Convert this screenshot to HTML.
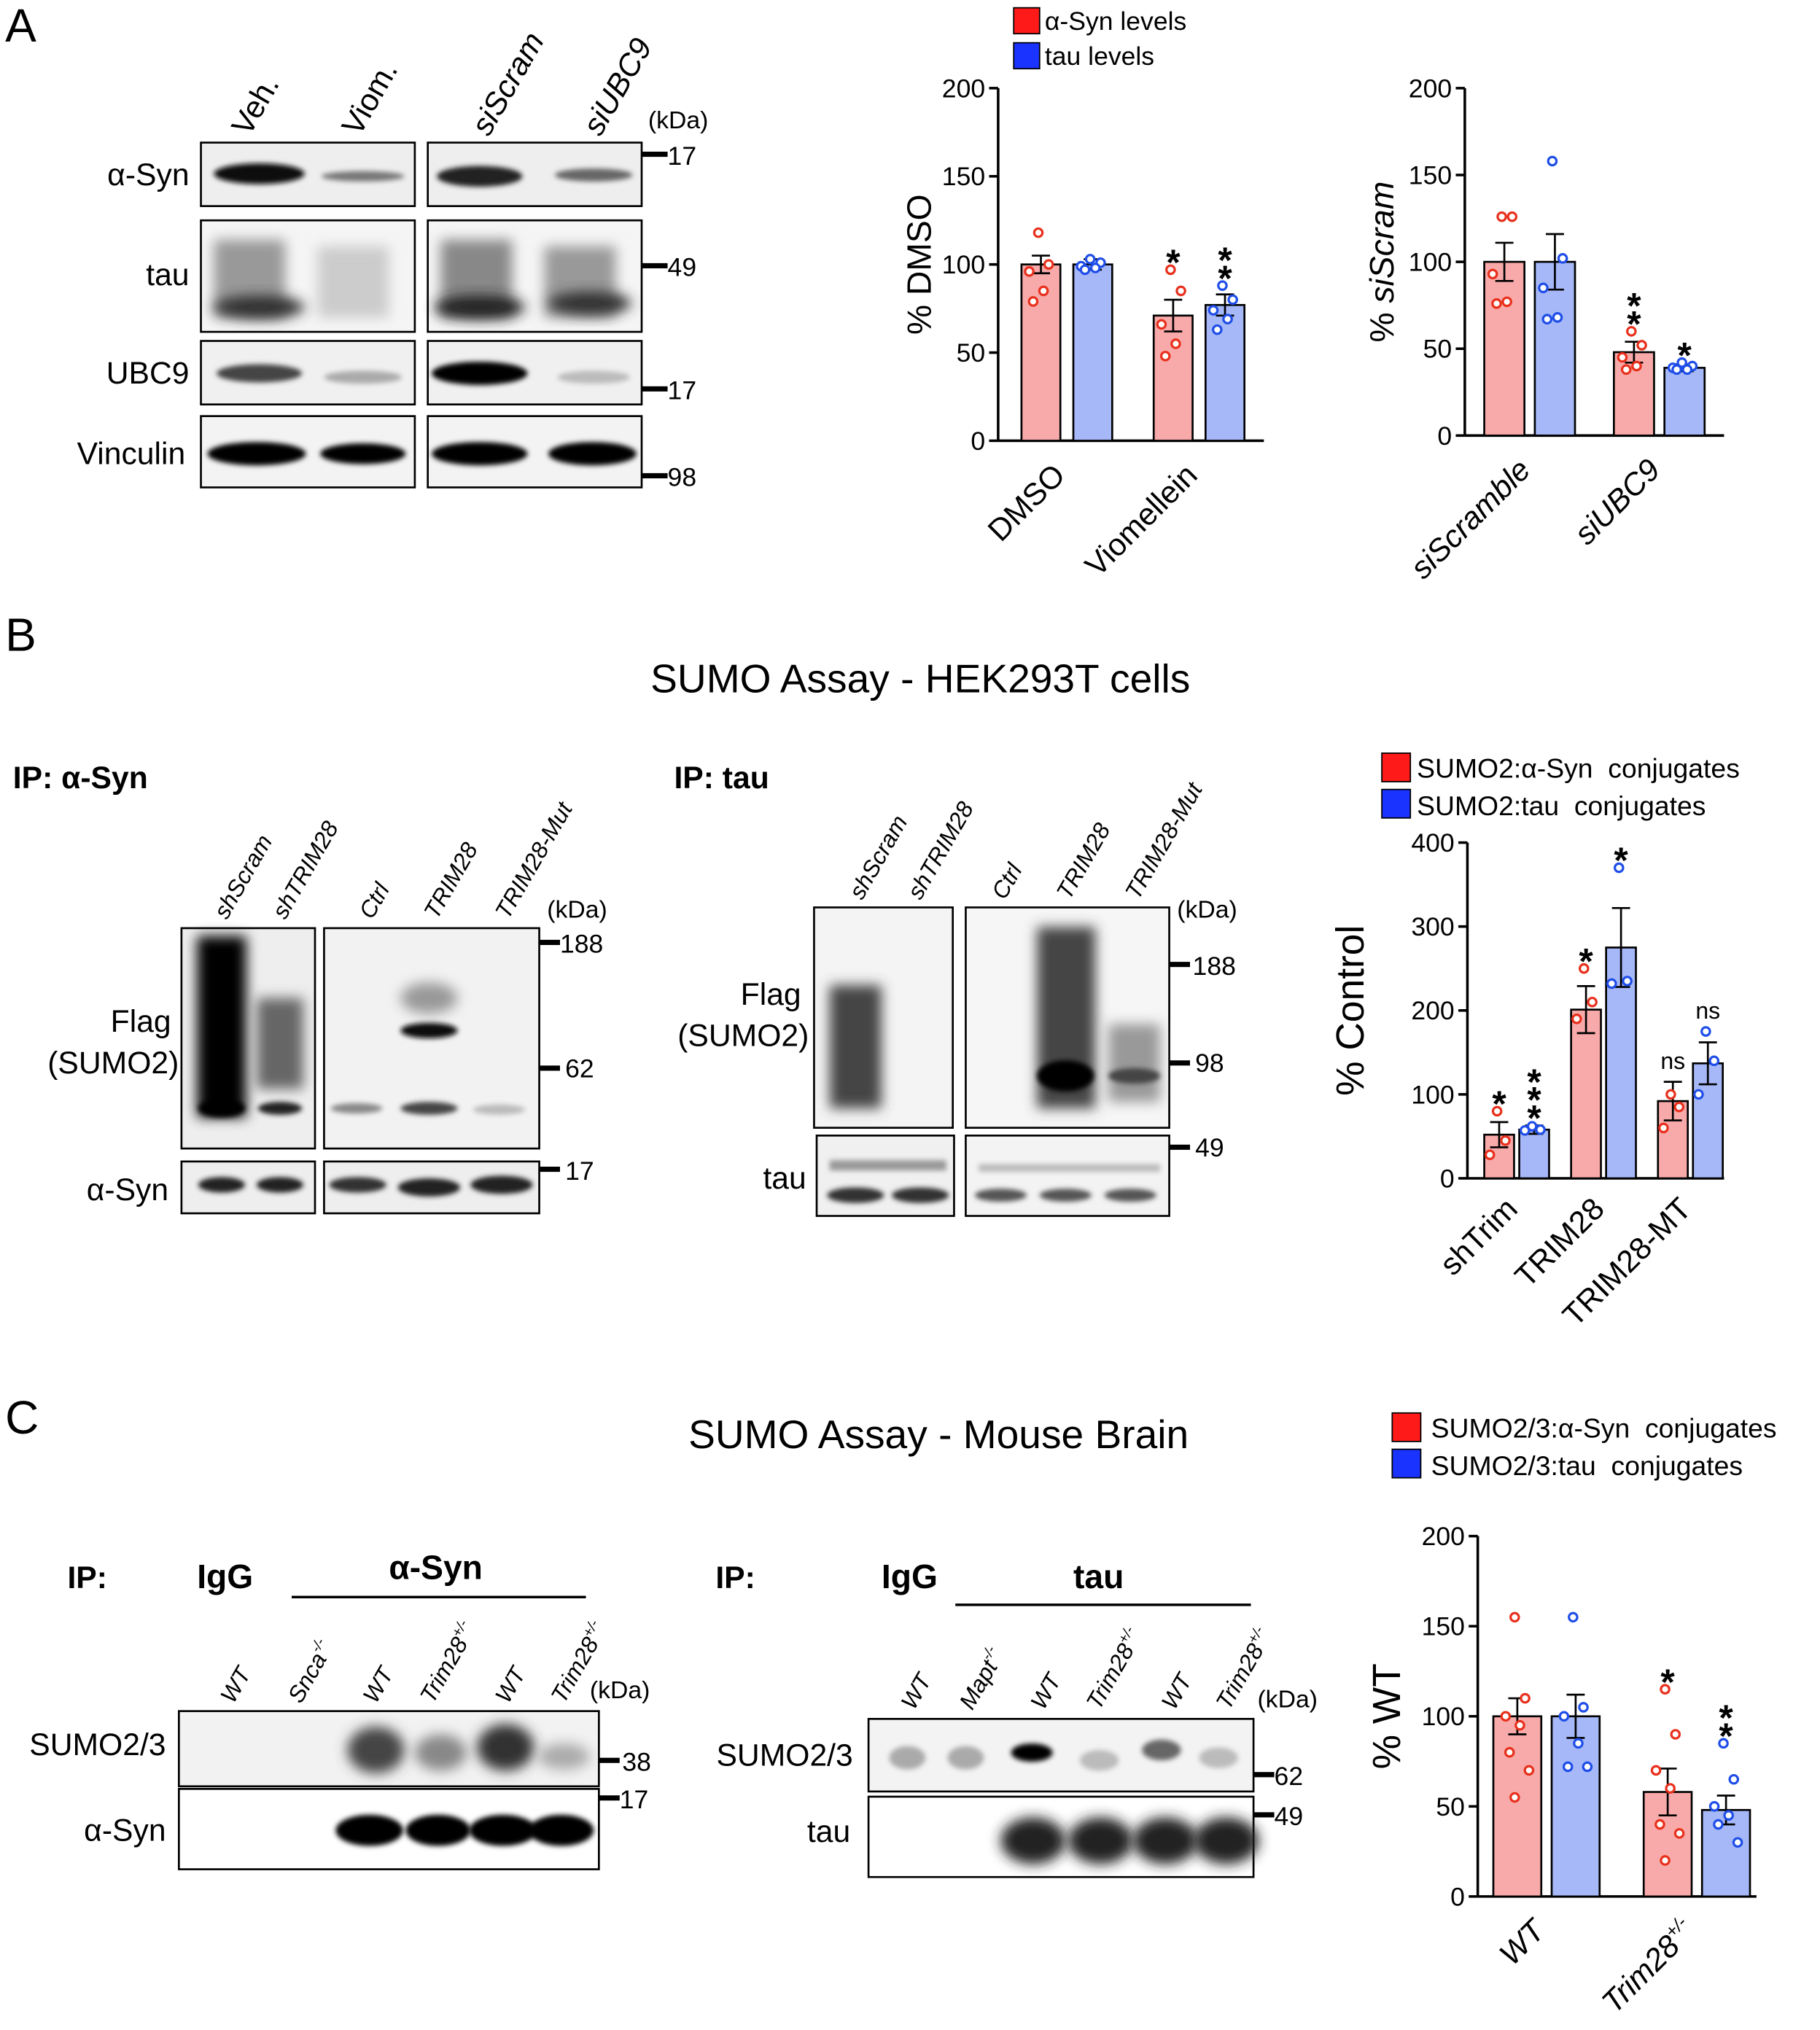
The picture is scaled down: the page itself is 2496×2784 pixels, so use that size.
<!DOCTYPE html>
<html><head><meta charset="utf-8"><style>
html,body{margin:0;padding:0;background:#fff}
svg{display:block}
text{font-family:"Liberation Sans",Arial,sans-serif;fill:#000}
</style></head><body>
<svg id="fig" width="2496" height="2784" viewBox="0 0 1404 1566" xmlns="http://www.w3.org/2000/svg">
<defs>
<filter id="b2" x="-50%" y="-50%" width="200%" height="200%"><feGaussianBlur stdDeviation="2"/></filter>
<filter id="b5" x="-50%" y="-50%" width="200%" height="200%"><feGaussianBlur stdDeviation="5"/></filter>
</defs>
<g id="static">
<text x="4" y="32" font-size="36">A</text>
<text x="4" y="502" font-size="36">B</text>
<text x="4" y="1106" font-size="36">C</text>

<g font-size="24">
<text transform="translate(192,106) rotate(-60)">Veh.</text>
<text transform="translate(277,106) rotate(-60)">Viom.</text>
<text transform="translate(377,106) rotate(-60)" font-style="italic">siScram</text>
<text transform="translate(463,106) rotate(-60)" font-style="italic">siUBC9</text>
<text x="500" y="99" font-size="19">(kDa)</text>
<text x="146" y="143" text-anchor="end">α-Syn</text>
<text x="146" y="220" text-anchor="end">tau</text>
<text x="146" y="296" text-anchor="end">UBC9</text>
<text x="143" y="358" text-anchor="end">Vinculin</text>
<rect x="155" y="110" width="165" height="49" fill="#eee" stroke="#000" stroke-width="1.5"/>
<rect x="330" y="110" width="165" height="49" fill="#eee" stroke="#000" stroke-width="1.5"/>
<ellipse cx="200" cy="134" rx="35" ry="8" fill="#111" filter="url(#b2)"/>
<ellipse cx="280" cy="136" rx="32" ry="4" fill="#777" filter="url(#b2)"/>
<ellipse cx="370" cy="136" rx="33" ry="8" fill="#222" filter="url(#b2)"/>
<ellipse cx="458" cy="135" rx="30" ry="5" fill="#666" filter="url(#b2)"/>
<rect x="155" y="170" width="165" height="86" fill="#f5f5f5" stroke="#000" stroke-width="1.5"/>
<rect x="330" y="170" width="165" height="86" fill="#f5f5f5" stroke="#000" stroke-width="1.5"/>
<rect x="165" y="185" width="55" height="60" fill="#999" filter="url(#b5)"/>
<rect x="245" y="190" width="55" height="55" fill="#ccc" filter="url(#b5)"/>
<rect x="340" y="185" width="55" height="60" fill="#888" filter="url(#b5)"/>
<rect x="420" y="190" width="55" height="55" fill="#999" filter="url(#b5)"/>
<ellipse cx="200" cy="237" rx="35" ry="9" fill="#333" filter="url(#b5)"/>
<ellipse cx="370" cy="237" rx="35" ry="9" fill="#222" filter="url(#b5)"/>
<ellipse cx="455" cy="234" rx="32" ry="9" fill="#333" filter="url(#b5)"/>
<rect x="155" y="263" width="165" height="49" fill="#f0f0f0" stroke="#000" stroke-width="1.5"/>
<rect x="330" y="263" width="165" height="49" fill="#f0f0f0" stroke="#000" stroke-width="1.5"/>
<ellipse cx="200" cy="288" rx="33" ry="7" fill="#444" filter="url(#b2)"/>
<ellipse cx="280" cy="291" rx="30" ry="5" fill="#aaa" filter="url(#b2)"/>
<ellipse cx="370" cy="288" rx="37" ry="9" fill="#000" filter="url(#b2)"/>
<ellipse cx="458" cy="291" rx="28" ry="5" fill="#bbb" filter="url(#b2)"/>
<rect x="155" y="321" width="165" height="55" fill="#f3f3f3" stroke="#000" stroke-width="1.5"/>
<rect x="330" y="321" width="165" height="55" fill="#f3f3f3" stroke="#000" stroke-width="1.5"/>
<ellipse cx="198" cy="350" rx="38" ry="9" fill="#000" filter="url(#b2)"/>
<ellipse cx="280" cy="350" rx="33" ry="8" fill="#000" filter="url(#b2)"/>
<ellipse cx="370" cy="350" rx="37" ry="9" fill="#000" filter="url(#b2)"/>
<ellipse cx="457" cy="350" rx="34" ry="9" fill="#000" filter="url(#b2)"/>
<g font-size="20">
<rect x="495" y="117" width="20" height="4"/><text x="515" y="127">17</text>
<rect x="495" y="203" width="20" height="4"/><text x="515" y="213">49</text>
<rect x="495" y="298" width="20" height="4"/><text x="515" y="308">17</text>
<rect x="495" y="365" width="20" height="4"/><text x="515" y="375">98</text>
</g>
</g>

<text x="710" y="534" font-size="31" text-anchor="middle">SUMO Assay - HEK293T cells</text>
<text x="724" y="1117" font-size="31" text-anchor="middle">SUMO Assay - Mouse Brain</text>

<g>
<text x="10" y="608" font-size="24" font-weight="bold">IP: α-Syn</text>
<g font-size="18" font-style="italic">
<text transform="translate(175,710) rotate(-60)">shScram</text>
<text transform="translate(220,710) rotate(-60)">shTRIM28</text>
<text transform="translate(287,710) rotate(-60)">Ctrl</text>
<text transform="translate(337,710) rotate(-60)">TRIM28</text>
<text transform="translate(392,710) rotate(-60)">TRIM28-Mut</text>
</g>
<text x="422" y="708" font-size="19">(kDa)</text>
<text x="132" y="796" font-size="24" text-anchor="end">Flag</text>
<text x="138" y="828" font-size="24" text-anchor="end">(SUMO2)</text>
<text x="130" y="926" font-size="24" text-anchor="end">α-Syn</text>
<rect x="140" y="716" width="103" height="170" fill="#eee" stroke="#000" stroke-width="1.5"/>
<rect x="250" y="716" width="166" height="170" fill="#f2f2f2" stroke="#000" stroke-width="1.5"/>
<rect x="152" y="722" width="38" height="140" fill="#000" filter="url(#b5)"/>
<rect x="198" y="770" width="36" height="70" fill="#666" filter="url(#b5)"/>
<ellipse cx="171" cy="855" rx="18" ry="7" fill="#000" filter="url(#b2)"/>
<ellipse cx="216" cy="855" rx="17" ry="5" fill="#222" filter="url(#b2)"/>
<ellipse cx="331" cy="795" rx="22" ry="6" fill="#111" filter="url(#b2)"/>
<ellipse cx="331" cy="770" rx="22" ry="12" fill="#999" filter="url(#b5)"/>
<ellipse cx="275" cy="855" rx="20" ry="4" fill="#888" filter="url(#b2)"/>
<ellipse cx="331" cy="855" rx="22" ry="5" fill="#444" filter="url(#b2)"/>
<ellipse cx="385" cy="856" rx="20" ry="4" fill="#bbb" filter="url(#b2)"/>
<rect x="140" y="896" width="103" height="40" fill="#eee" stroke="#000" stroke-width="1.5"/>
<rect x="250" y="896" width="166" height="40" fill="#eee" stroke="#000" stroke-width="1.5"/>
<ellipse cx="171" cy="914" rx="18" ry="6" fill="#222" filter="url(#b2)"/>
<ellipse cx="216" cy="914" rx="18" ry="6" fill="#222" filter="url(#b2)"/>
<ellipse cx="276" cy="914" rx="22" ry="6" fill="#333" filter="url(#b2)"/>
<ellipse cx="331" cy="916" rx="24" ry="7" fill="#222" filter="url(#b2)"/>
<ellipse cx="387" cy="914" rx="24" ry="7" fill="#222" filter="url(#b2)"/>
<g font-size="20">
<rect x="416" y="725" width="16" height="4"/><text x="432" y="735">188</text>
<rect x="416" y="822" width="16" height="4"/><text x="436" y="831">62</text>
<rect x="416" y="900" width="16" height="4"/><text x="436" y="910">17</text>
</g>
</g>

<g>
<text x="520" y="608" font-size="24" font-weight="bold">IP: tau</text>
<g font-size="18" font-style="italic">
<text transform="translate(665,695) rotate(-60)">shScram</text>
<text transform="translate(710,695) rotate(-60)">shTRIM28</text>
<text transform="translate(775,695) rotate(-60)">Ctrl</text>
<text transform="translate(825,695) rotate(-60)">TRIM28</text>
<text transform="translate(878,695) rotate(-60)">TRIM28-Mut</text>
</g>
<text x="908" y="708" font-size="19">(kDa)</text>
<text x="618" y="775" font-size="24" text-anchor="end">Flag</text>
<text x="624" y="807" font-size="24" text-anchor="end">(SUMO2)</text>
<text x="622" y="917" font-size="24" text-anchor="end">tau</text>
<rect x="628" y="700" width="107" height="170" fill="#f4f4f4" stroke="#000" stroke-width="1.5"/>
<rect x="745" y="700" width="157" height="170" fill="#f6f6f6" stroke="#000" stroke-width="1.5"/>
<rect x="640" y="760" width="40" height="95" fill="#444" filter="url(#b5)"/>
<rect x="800" y="715" width="45" height="140" fill="#444" filter="url(#b5)"/>
<ellipse cx="822" cy="830" rx="22" ry="12" fill="#000" filter="url(#b2)"/>
<rect x="855" y="790" width="40" height="60" fill="#999" filter="url(#b5)"/>
<ellipse cx="875" cy="830" rx="20" ry="6" fill="#444" filter="url(#b2)"/>
<rect x="630" y="876" width="106" height="62" fill="#f0f0f0" stroke="#000" stroke-width="1.5"/>
<rect x="745" y="876" width="157" height="62" fill="#f3f3f3" stroke="#000" stroke-width="1.5"/>
<ellipse cx="660" cy="922" rx="22" ry="6" fill="#333" filter="url(#b2)"/>
<ellipse cx="710" cy="922" rx="22" ry="6" fill="#333" filter="url(#b2)"/>
<ellipse cx="772" cy="922" rx="20" ry="5" fill="#555" filter="url(#b2)"/>
<ellipse cx="822" cy="922" rx="20" ry="5" fill="#555" filter="url(#b2)"/>
<ellipse cx="872" cy="922" rx="20" ry="5" fill="#555" filter="url(#b2)"/>
<rect x="640" y="895" width="90" height="8" fill="#999" filter="url(#b2)"/>
<rect x="755" y="898" width="140" height="6" fill="#bbb" filter="url(#b2)"/>
<g font-size="20">
<rect x="902" y="742" width="16" height="4"/><text x="920" y="752">188</text>
<rect x="902" y="818" width="16" height="4"/><text x="922" y="827">98</text>
<rect x="902" y="883" width="16" height="4"/><text x="922" y="892">49</text>
</g>
</g>

<g>
<text x="52" y="1225" font-size="24" font-weight="bold">IP:</text>
<text x="152" y="1225" font-size="26" font-weight="bold">IgG</text>
<text x="300" y="1218" font-size="26" font-weight="bold">α-Syn</text>
<line x1="225" y1="1232" x2="452" y2="1232" stroke="#000" stroke-width="2"/>
<g font-size="18" font-style="italic">
<text transform="translate(180,1315) rotate(-60)">WT</text>
<text transform="translate(232,1315) rotate(-60)">Snca<tspan font-size="11" dy="-8">-/-</tspan></text>
<text transform="translate(290,1315) rotate(-60)">WT</text>
<text transform="translate(334,1315) rotate(-60)">Trim28<tspan font-size="11" dy="-8">+/-</tspan></text>
<text transform="translate(392,1315) rotate(-60)">WT</text>
<text transform="translate(435,1315) rotate(-60)">Trim28<tspan font-size="11" dy="-8">+/-</tspan></text>
</g>
<text x="455" y="1310" font-size="19">(kDa)</text>
<text x="128" y="1354" font-size="24" text-anchor="end">SUMO2/3</text>
<text x="128" y="1420" font-size="24" text-anchor="end">α-Syn</text>
<rect x="138" y="1320" width="324" height="58" fill="#f2f2f2" stroke="#000" stroke-width="1.5"/>
<ellipse cx="290" cy="1350" rx="22" ry="18" fill="#444" filter="url(#b5)"/>
<ellipse cx="340" cy="1352" rx="20" ry="14" fill="#888" filter="url(#b5)"/>
<ellipse cx="390" cy="1348" rx="22" ry="18" fill="#333" filter="url(#b5)"/>
<ellipse cx="435" cy="1355" rx="20" ry="10" fill="#aaa" filter="url(#b5)"/>
<rect x="138" y="1380" width="324" height="62" fill="#fff" stroke="#000" stroke-width="1.5"/>
<ellipse cx="285" cy="1412" rx="26" ry="12" fill="#000" filter="url(#b2)"/>
<ellipse cx="338" cy="1412" rx="25" ry="12" fill="#000" filter="url(#b2)"/>
<ellipse cx="388" cy="1412" rx="26" ry="12" fill="#000" filter="url(#b2)"/>
<ellipse cx="433" cy="1412" rx="25" ry="12" fill="#000" filter="url(#b2)"/>
<g font-size="20">
<rect x="462" y="1356" width="16" height="4"/><text x="480" y="1366">38</text>
<rect x="462" y="1385" width="16" height="4"/><text x="478" y="1395">17</text>
</g>
</g>

<g>
<text x="552" y="1225" font-size="24" font-weight="bold">IP:</text>
<text x="680" y="1225" font-size="26" font-weight="bold">IgG</text>
<text x="828" y="1225" font-size="26" font-weight="bold">tau</text>
<line x1="737" y1="1238" x2="965" y2="1238" stroke="#000" stroke-width="2"/>
<g font-size="18" font-style="italic">
<text transform="translate(705,1320) rotate(-60)">WT</text>
<text transform="translate(750,1320) rotate(-60)">Mapt<tspan font-size="11" dy="-8">-/-</tspan></text>
<text transform="translate(805,1320) rotate(-60)">WT</text>
<text transform="translate(848,1320) rotate(-60)">Trim28<tspan font-size="11" dy="-8">+/-</tspan></text>
<text transform="translate(906,1320) rotate(-60)">WT</text>
<text transform="translate(948,1320) rotate(-60)">Trim28<tspan font-size="11" dy="-8">+/-</tspan></text>
</g>
<text x="970" y="1317" font-size="19">(kDa)</text>
<text x="658" y="1362" font-size="24" text-anchor="end">SUMO2/3</text>
<text x="656" y="1421" font-size="24" text-anchor="end">tau</text>
<rect x="670" y="1326" width="297" height="56" fill="#f3f3f3" stroke="#000" stroke-width="1.5"/>
<ellipse cx="700" cy="1356" rx="14" ry="9" fill="#aaa" filter="url(#b2)"/>
<ellipse cx="745" cy="1356" rx="14" ry="9" fill="#aaa" filter="url(#b2)"/>
<ellipse cx="796" cy="1352" rx="16" ry="7" fill="#000" filter="url(#b2)"/>
<ellipse cx="848" cy="1358" rx="15" ry="8" fill="#bbb" filter="url(#b2)"/>
<ellipse cx="896" cy="1350" rx="15" ry="8" fill="#666" filter="url(#b2)"/>
<ellipse cx="940" cy="1356" rx="15" ry="8" fill="#bbb" filter="url(#b2)"/>
<rect x="670" y="1386" width="297" height="62" fill="#fff" stroke="#000" stroke-width="1.5"/>
<ellipse cx="797" cy="1420" rx="25" ry="18" fill="#222" filter="url(#b5)"/>
<ellipse cx="849" cy="1420" rx="25" ry="18" fill="#222" filter="url(#b5)"/>
<ellipse cx="899" cy="1420" rx="25" ry="18" fill="#222" filter="url(#b5)"/>
<ellipse cx="946" cy="1420" rx="25" ry="18" fill="#222" filter="url(#b5)"/>
<g font-size="20">
<rect x="967" y="1367" width="16" height="4"/><text x="983" y="1377">62</text>
<rect x="967" y="1398" width="16" height="4"/><text x="983" y="1408">49</text>
</g>
</g>

<g font-size="20">
<rect x="782" y="6" width="20" height="20" fill="#ff1a1a" stroke="#000"/><text x="806" y="23">α-Syn levels</text>
<rect x="782" y="33" width="20" height="20" fill="#1a33ff" stroke="#000"/><text x="806" y="50">tau levels</text>
</g>
<g font-size="21">
<rect x="1066" y="581" width="22" height="22" fill="#ff1a1a" stroke="#000"/><text x="1093" y="600">SUMO2:α-Syn&#160;&#160;conjugates</text>
<rect x="1066" y="609" width="22" height="22" fill="#1a33ff" stroke="#000"/><text x="1093" y="629">SUMO2:tau&#160;&#160;conjugates</text>
</g>
<g font-size="21">
<rect x="1074" y="1090" width="22" height="22" fill="#ff1a1a" stroke="#000"/><text x="1104" y="1109">SUMO2/3:α-Syn&#160;&#160;conjugates</text>
<rect x="1074" y="1118" width="22" height="22" fill="#1a33ff" stroke="#000"/><text x="1104" y="1138">SUMO2/3:tau&#160;&#160;conjugates</text>
</g>
</g>
<g id="charts"></g>
</svg>
<script>
const a1Cats=["DMSO","Viomellein"];
const a1Red=[100,71];
const a1Blue=[100,77];
const a1RedErr=[5,9];
const a1BlueErr=[3,6];
const a1RedPts=[[118,100,96,85,79],[97,85,66,55,48]];
const a1BluePts=[[103,101,99,98,97],[88,80,74,69,63]];
const a1Ticks=[0,50,100,150,200];
const a1Stars=[["",""],["*","**"]];
const a2Cats=["siScramble","siUBC9"];
const a2Red=[100,48];
const a2Blue=[100,39];
const a2RedErr=[11,6];
const a2BlueErr=[16,2];
const a2RedPts=[[126,126,93,77,76],[60,52,45,40,38]];
const a2BluePts=[[158,102,85,68,67],[42,40,39,38,38]];
const a2Ticks=[0,50,100,150,200];
const a2Stars=[["",""],["**","*"]];
const bCats=["shTrim","TRIM28","TRIM28-MT"];
const bRed=[52,201,92];
const bBlue=[58,275,137];
const bRedErr=[15,28,23];
const bBlueErr=[5,47,25];
const bRedPts=[[80,45,28],[250,210,190],[100,85,60]];
const bBluePts=[[62,58,57],[370,235,232],[175,140,100]];
const bTicks=[0,100,200,300,400];
const bStars=[["*","***"],["*","*"],["ns","ns"]];
const cCats=["WT","Trim28+/-"];
const cRed=[100,58];
const cBlue=[100,48];
const cRedErr=[10,13];
const cBlueErr=[12,8];
const cRedPts=[[155,110,100,95,80,70,55],[115,90,70,60,40,35,20]];
const cBluePts=[[155,105,100,85,72,72],[85,65,50,45,40,30]];
const cTicks=[0,50,100,150,200];
const cStars=[["",""],["*","**"]];

const NS="http://www.w3.org/2000/svg";
const root=document.getElementById('charts');
function mk(tag,attrs,parent){const e=document.createElementNS(NS,tag);for(const k in attrs)e.setAttribute(k,attrs[k]);parent.appendChild(e);return e;}

function chart(cfg){
  const g=mk('g',{},root);
  
  
  const y=v=>cfg.y0-(v-cfg.min)/(cfg.max-cfg.min)*(cfg.y0-cfg.yTop);
  mk('line',{x1:cfg.ax,y1:cfg.yTop,x2:cfg.ax,y2:cfg.y0,stroke:'#000','stroke-width':2},g);
  mk('line',{x1:cfg.ax,y1:cfg.y0,x2:cfg.axEnd,y2:cfg.y0,stroke:'#000','stroke-width':2},g);
  cfg.ticks.forEach(t=>{
    mk('line',{x1:cfg.ax-7,y1:y(t),x2:cfg.ax,y2:y(t),stroke:'#000','stroke-width':2},g);
    const tx=mk('text',{x:cfg.ax-10,y:y(t)+7,'font-size':20,'text-anchor':'end'},g);
    tx.textContent=t;
    
    
  });
  const yl=mk('text',{transform:`translate(${cfg.ylx},${(cfg.y0+cfg.yTop)/2}) rotate(-90)`,'font-size':cfg.ylSize||26,'text-anchor':'middle'},g);
  yl.innerHTML=cfg.ylabel;
  
  
  cfg.cats.forEach((c,i)=>{
    const gx=cfg.g0+i*cfg.gStep;
    [[cfg.red,cfg.redErr,cfg.redPts,'#f8aaaa','#e8301c',0],[cfg.blue,cfg.blueErr,cfg.bluePts,'#a6b8f8','#1f4ee8',1]].forEach(([vals,errs,pts,fill,pc,s])=>{
      const x=gx+s*(cfg.bw+cfg.gap);
      const r=mk('rect',{x:x,y:y(vals[i]),width:cfg.bw,height:cfg.y0-y(vals[i]),fill:fill,stroke:'#000','stroke-width':1.5},g);
      
      
      const cx=x+cfg.bw/2;
      mk('line',{x1:cx,y1:y(vals[i]+errs[i]),x2:cx,y2:y(vals[i]-errs[i]),stroke:'#000','stroke-width':1.5},g);
      mk('line',{x1:cx-7,y1:y(vals[i]+errs[i]),x2:cx+7,y2:y(vals[i]+errs[i]),stroke:'#000','stroke-width':1.5},g);
      mk('line',{x1:cx-7,y1:y(vals[i]-errs[i]),x2:cx+7,y2:y(vals[i]-errs[i]),stroke:'#000','stroke-width':1.5},g);
      const n=pts[i].length;
      pts[i].forEach((p,k)=>{
        const off=(k%2===0?-1:1)*Math.min(9,(k%3)*4+2)*(n>3?1:0.8);
        const c=mk('circle',{cx:cx+off,cy:y(p),r:3.2,fill:'#fff',stroke:pc,'stroke-width':1.8},g);
        
        
      });
      const st=cfg.stars[i][s];
      if(st){
        const top=Math.max(...pts[i],vals[i]+errs[i]);
        if(st==='ns'){
          const t=mk('text',{x:cx,y:y(top)-10,'font-size':18,'text-anchor':'middle'},g);t.textContent='ns';
          
          
        } else {
          for(let k=0;k<st.length;k++){
            const t=mk('text',{x:cx,y:y(top)+4-k*14,'font-size':28,'font-weight':'bold','text-anchor':'middle'},g);t.textContent='*';
            
            
          }
        }
      }
    });
    const lx=gx+cfg.bw+cfg.gap/2+cfg.lblDx;
    const lt=mk('text',{transform:`translate(${lx},${cfg.y0+cfg.lblDy}) rotate(-45)`,'font-size':24,'text-anchor':'end','font-style':cfg.italic?'italic':'normal'},g);
    lt.innerHTML=cfg.catHtml?cfg.catHtml[i]:c;
    
    
  });
}
chart({name:'chart-a-dmso',cats:a1Cats,red:a1Red,blue:a1Blue,redErr:a1RedErr,blueErr:a1BlueErr,redPts:a1RedPts,bluePts:a1BluePts,ticks:a1Ticks,stars:a1Stars,
 min:0,max:200,y0:340,yTop:68,ax:770,axEnd:975,g0:788,gStep:102,bw:30,gap:10,ylabel:'% DMSO',ylx:718,lblDx:0,lblDy:28});
chart({name:'chart-a-siscram',cats:a2Cats,red:a2Red,blue:a2Blue,redErr:a2RedErr,blueErr:a2BlueErr,redPts:a2RedPts,bluePts:a2BluePts,ticks:a2Ticks,stars:a2Stars,
 min:0,max:200,y0:336,yTop:68,ax:1130,axEnd:1330,g0:1145,gStep:100,bw:31,gap:8,ylabel:'% <tspan font-style="italic">siScram</tspan>',ylx:1075,lblDx:2,lblDy:28,italic:true});
chart({name:'chart-b-control',cats:bCats,red:bRed,blue:bBlue,redErr:bRedErr,blueErr:bBlueErr,redPts:bRedPts,bluePts:bBluePts,ticks:bTicks,stars:bStars,
 min:0,max:400,y0:909,yTop:650,ax:1132,axEnd:1330,g0:1145,gStep:67,bw:23,gap:4,ylabel:'% Control',ylx:1052,ylSize:30,lblDx:2,lblDy:25});
chart({name:'chart-c-wt',cats:cCats,red:cRed,blue:cBlue,redErr:cRedErr,blueErr:cBlueErr,redPts:cRedPts,bluePts:cBluePts,ticks:cTicks,stars:cStars,
 min:0,max:200,y0:1463,yTop:1185,ax:1140,axEnd:1355,g0:1152,gStep:116,bw:37,gap:8,ylabel:'% WT',ylx:1080,ylSize:30,lblDx:0,lblDy:28,italic:true,
 catHtml:['WT','Trim28<tspan font-size="14" dy="-10">+/-</tspan>']});
</script>
</body></html>
